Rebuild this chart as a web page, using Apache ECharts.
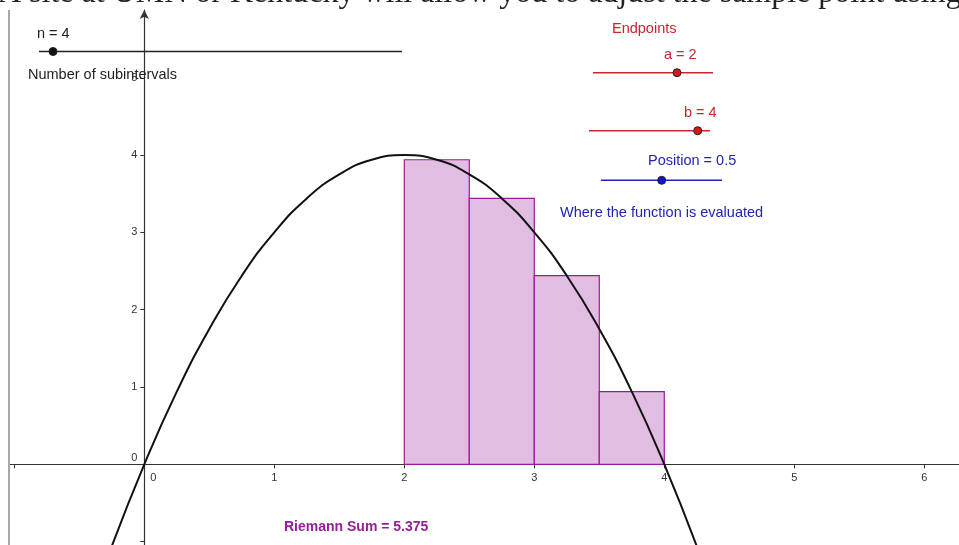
<!DOCTYPE html>
<html>
<head>
<meta charset="utf-8">
<title>Riemann Sum</title>
<script src="https://cdn.jsdelivr.net/npm/echarts@6/dist/echarts.min.js"></script>
<style>
  html, body { margin: 0; padding: 0; background: #fff; }
  #chart { width: 959px; height: 545px; }
</style>
</head>
<body>
<div id="chart"></div>
<script>
  // f(x)
  var curveX = [-0.25, 0, 0.25, 0.5, 0.75, 1, 1.25, 1.5, 1.75, 2, 2.25, 2.5, 2.75, 3, 3.25, 3.5, 3.75, 4, 4.25];
  var curveY = [-1.06, 0, 0.94, 1.75, 2.44, 3, 3.44, 3.75, 3.94, 4, 3.94, 3.75, 3.44, 3, 2.44, 1.75, 0.94, 0, -1.06];
  // subintervals (midpoint rule)
  var edges = [2, 2.5, 3, 3.5, 4];
  var heights = [3.94, 3.44, 2.44, 0.94];
  var xTicks = [-1, 0, 1, 2, 3, 4, 5, 6];
  var xLabels = [0, 1, 2, 3, 4, 5, 6];
  var yTicks = [-1, 0, 1, 2, 3, 4, 5];
  var yLabels = [0, 1, 2, 3, 4, 5];

  var font = 'Liberation Sans, Arial, sans-serif';
  var red = '#c8262e';
  var blue = '#2323b4';

  var curveData = curveX.map(function (x, i) { return [x, curveY[i]]; });
  var rectData = heights.map(function (h, i) { return [edges[i], edges[i + 1], h]; });

  var myChart = echarts.init(document.getElementById('chart'));

  function slider(x1, x2, y, px, color, dot) {
    return [{
      type: 'line', z: 10,
      shape: { x1: x1, y1: y, x2: x2, y2: y },
      style: { stroke: color, lineWidth: 1.5 }
    }, {
      type: 'circle', z: 11,
      shape: { cx: px, cy: y, r: 4 },
      style: { fill: dot, stroke: '#222', lineWidth: 1 }
    }];
  }

  function label(text, x, y, color, size, weight) {
    return {
      type: 'text', z: 12,
      x: x, y: y,
      style: {
        text: text, fill: color, font: (weight || 'normal') + ' ' + (size || 14.5) + 'px ' + font,
        verticalAlign: 'middle'
      }
    };
  }

  var graphics = [
    // page text cut by the top of the shot
    {
      type: 'text', z: 12, x: -2, y: 10,
      style: {
        text: 'A site at UMN or Kentucky will allow you to adjust the sample point using',
        fill: '#222', font: '32px Liberation Serif, serif', verticalAlign: 'bottom'
      }
    },
    // applet left border
    { type: 'line', z: 10, shape: { x1: 9, y1: 10, x2: 9, y2: 545 }, style: { stroke: '#a8a8a8', lineWidth: 2 } },
    label('n = 4', 37, 33.5, '#222'),
    label('Number of subintervals', 28, 75, '#222'),
    label('Endpoints', 612, 29, red),
    label('a = 2', 664, 55, red),
    label('b = 4', 684, 112.5, red),
    label('Position = 0.5', 648, 161, blue),
    label('Where the function is evaluated', 560, 212.5, blue),
    label('Riemann Sum = 5.375', 284, 527, '#961e96', 14, 'bold')
  ]
    .concat(slider(39, 402, 51.5, 53, '#222', '#111'))
    .concat(slider(593, 713, 72.7, 677, red, '#d41a1a'))
    .concat(slider(589, 710, 130.7, 697.7, red, '#d41a1a'))
    .concat(slider(601, 722, 180.3, 661.7, blue, '#1414c8'));

  var option = {
    backgroundColor: '#fff',
    animation: false,
    grid: { left: 10, right: 0, top: 10, bottom: 0, containLabel: false, outerBoundsMode: 'none' },
    xAxis: {
      type: 'value',
      min: -1.033,
      max: 6.267,
      axisLine: { onZero: false, lineStyle: { color: '#333', width: 1.2 } },
      axisTick: { customValues: xTicks, length: 4, lineStyle: { color: '#333' } },
      axisLabel: {
        customValues: xLabels,
        margin: 8,
        color: '#333',
        fontSize: 11,
        fontFamily: font,
        formatter: function (v) { return v === 0 ? '{o|0}' : String(v); },
        rich: { o: { padding: [0, 0, 0, 18], color: '#333', fontSize: 11, fontFamily: font } }
      },
      splitLine: { show: false }
    },
    yAxis: {
      type: 'value',
      min: -1.044,
      max: 5.877,
      axisLine: {
        onZero: false,
        symbol: ['none', 'arrow'],
        symbolSize: [7, 9],
        lineStyle: { color: '#333', width: 1.2 }
      },
      axisTick: { customValues: yTicks, length: 4, lineStyle: { color: '#333' } },
      axisLabel: {
        customValues: yLabels,
        margin: 7,
        color: '#333',
        fontSize: 11,
        fontFamily: font,
        formatter: function (v) { return v === 0 ? '{o|0}' : String(v); },
        rich: { o: { padding: [0, 0, 12, 0], color: '#333', fontSize: 11, fontFamily: font } }
      },
      splitLine: { show: false }
    },
    graphic: graphics,
    series: [{
      name: 'rects',
      type: 'custom',
      clip: true,
      data: rectData,
      encode: { x: [0, 1], y: 2 },
      renderItem: function (params, api) {
        var p0 = api.coord([api.value(0), api.value(2)]);
        var p1 = api.coord([api.value(1), 0]);
        return {
          type: 'rect',
          shape: { x: p0[0], y: p0[1], width: p1[0] - p0[0], height: p1[1] - p0[1] },
          style: { fill: '#e2bde2', stroke: '#9a1c9a', lineWidth: 1.2 }
        };
      },
      z: 3
    }, {
      name: 'f',
      type: 'line',
      data: curveData,
      smooth: true,
      showSymbol: false,
      clip: true,
      lineStyle: { color: '#111', width: 2 },
      z: 5
    }]
  };

  myChart.setOption(option);

  // move both axes (line, ticks and labels) to the origin
  var origin = myChart.convertToPixel({ gridIndex: 0 }, [0, 0]);
  myChart.setOption({
    xAxis: { offset: -(545 - origin[1]) },
    yAxis: { offset: -(origin[0] - 10) }
  });
</script>
</body>
</html>
